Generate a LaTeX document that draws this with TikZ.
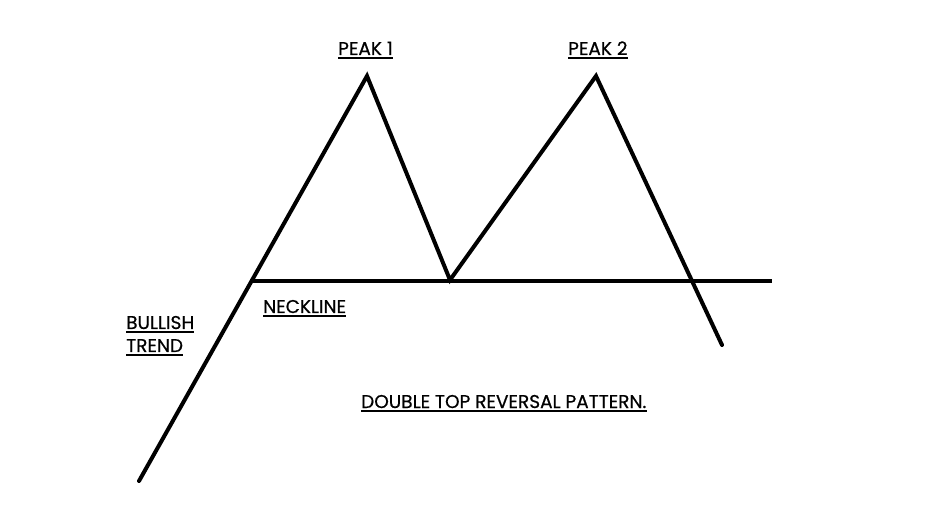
\documentclass[tikz,border=0pt]{standalone}
\usepackage{fontspec}
\setmainfont{Poppins}[FakeBold=0.6]
\begin{document}
\begin{tikzpicture}[x=1pt,y=-1pt,
  chart/.style={line width=4pt,line cap=round,line join=miter},
  lbl/.style={inner sep=0pt,anchor=base west,font=\fontsize{18.5}{20}\selectfont},
  uline/.style={line width=1.3pt}]
\useasboundingbox (0,0) rectangle (950,510);
\coordinate (start) at (139,481);
\coordinate (p1) at (367,76);
\coordinate (tr) at (450,280);
\coordinate (p2) at (596,76);
\coordinate (end) at (722,345);
\coordinate (nl) at (250,281);
\coordinate (nr) at (772,281);
\draw[chart] (start) -- (p1) -- (tr) -- (p2) -- (end);
\draw[line width=4.5pt] (nl) -- (nr);
\node[lbl] (peak1) at (338,55) {PEAK 1};
\node[lbl] (peak2) at (568,55) {PEAK 2};
\node[lbl] (neck) at (263,313) {NECKLINE};
\node[lbl] (bull) at (126,329) {BULLISH};
\node[lbl] (trend) at (126,352) {TREND};
\node[lbl] (title) at (361,408) {DOUBLE TOP REVERSAL PATTERN.};
\foreach \n in {peak1,peak2,neck,bull,trend,title}
  \draw[uline] ([yshift=-3pt]\n.base west) -- ([yshift=-3pt]\n.base east);
\end{tikzpicture}
\end{document}
